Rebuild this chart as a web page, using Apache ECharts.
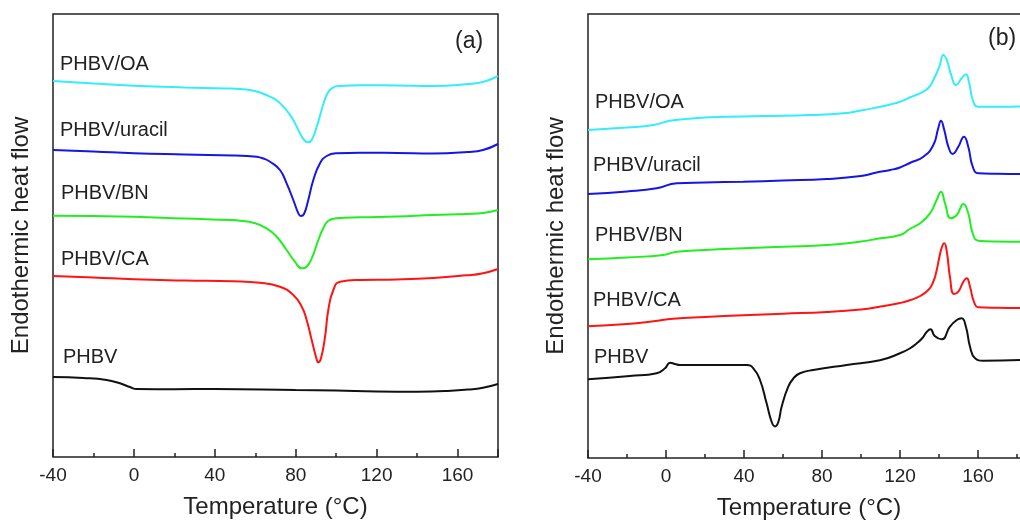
<!DOCTYPE html>
<html>
<head>
<meta charset="utf-8">
<script src="https://cdn.jsdelivr.net/npm/echarts@6.0.0/dist/echarts.min.js"></script>
<style>
  html, body { margin: 0; padding: 0; background: #fff; }
  #chart { width: 1020px; height: 524px; }
</style>
</head>
<body>
<div id="chart"></div>
<script>
// DSC curves, [temperature (°C), heat flow (arb. units, offset stacked)]
// panel (a): cooling
const A_OA = [[-40,376],[-20,373.5],[0,371.3],[25,369.5],[45,368.5],[52.5,368],[59,366.3],[63,364],[67.3,360.3],[71,356],[73.9,350.3],[76.5,344],[78.8,337],[82.1,323.7],[84.6,316],[86.2,314.7],[87.9,317],[90.4,330.3],[92.8,347],[95.3,362],[97.8,368.7],[101.9,371],[111.8,371.7],[130,371.5],[148,371],[165,373],[173,375.3],[180,381]];
const A_URACIL = [[-40,307],[-20,305.5],[0,303.7],[25,302.5],[49,301.5],[56,301],[60.7,300.3],[64,298.5],[67.3,295.3],[72.2,287],[75.5,273.7],[78.8,257],[81.3,243.7],[82.5,241],[84.1,243],[86.2,257],[88.7,277],[92,293.7],[95.3,301],[100.3,303.7],[111.8,304.3],[130,304],[148,303.5],[165,305],[172.6,307],[180,313]];
const A_BN = [[-40,241.3],[-20,241],[0,240.3],[25,238.5],[49,237],[52.5,236.3],[59,234.3],[65.6,228.7],[70.6,220.3],[75.5,207],[79.6,195.3],[83,188.7],[85.4,190.3],[87.9,198.7],[91.2,217],[93.6,228.7],[96.1,236.3],[100.3,238.7],[111.8,239.7],[130,240.5],[148,242],[165,243],[172.6,244],[180,247]];
const A_CA = [[-40,181],[-20,179.5],[0,177.7],[25,176.5],[49,175.7],[62.3,174.3],[72.2,170.3],[78.8,162],[83,150.3],[85.4,137],[87.9,117],[90,100.3],[91.2,94.7],[92.5,98.7],[94.5,120.3],[96.1,147],[98.6,167],[101.9,175.3],[111.8,177],[130,177.5],[148,179],[164.5,181.7],[172,183.5],[180,188]];
const A_PHBV = [[-40,80],[-25,79],[-13.5,77],[-6.9,73.7],[-2,70],[1.4,68],[20,67.8],[40,68],[80,67],[100,66.5],[120,65.5],[140,65.3],[155,66],[165,67.5],[172,69],[180,73]];

// panel (b): second heating
const B_OA = [[-40,328],[-20,330.5],[-6.5,333],[2,337.3],[10,339],[22.6,340.7],[50,342],[73.8,343],[90.9,344.7],[100,347.5],[108,350.5],[115,353.5],[120,356.3],[125,360.5],[132,366.3],[135,371],[137.1,378],[140.2,391.3],[142.2,403],[144,398],[146.5,381.3],[148.7,373],[151.6,379.7],[153.8,383.7],[155.5,374.7],[157.6,356.3],[160.2,351.3],[170,351.3],[182,351.5]];
const B_URACIL = [[-40,264],[-20,266.5],[-4.8,269.7],[5.5,274.7],[20,275.5],[39.6,276.3],[60,277.5],[82.4,279],[100,282],[108,285.5],[115,288],[120,290.5],[125,295],[132,301.3],[137.1,313],[139.6,329.7],[141,337.3],[142.7,328],[144.8,311.3],[147,304],[149.9,311.3],[152.8,321.3],[155,311.3],[157.3,291.3],[160.2,284.7],[170,284.2],[182,284]];
const B_BN = [[-40,198.7],[-20,200.5],[-1.4,203],[5.5,206.3],[20,208],[39.6,209.7],[60,211.3],[82.4,213],[100,216.5],[109,219.5],[120,223],[125,229],[130.3,234.7],[135.4,244.7],[138.8,258],[141,266.3],[143.1,254.7],[146,239.7],[149.1,243],[152.5,254],[155,244.7],[157.3,224.7],[160.2,217.3],[170,216.5],[182,216.3]];
const B_CA = [[-40,131.7],[-20,134],[-6.5,136.7],[3.7,139.3],[20,141],[39.6,142.7],[60,144.3],[82.4,146],[100,148.5],[109,151],[120,155],[125,157.7],[130.3,162],[134.5,168],[136.8,175],[138.6,186],[140.2,201],[141.5,211],[142.7,214.7],[144,206.3],[145.6,181.3],[147.7,164],[149.9,166.3],[152.5,176.3],[154.2,179.7],[155.9,171.3],[157.9,156.3],[160.2,150.7],[170,150.2],[182,150]];
const B_PHBV = [[-40,78.7],[-18.5,82],[-4.8,84.7],[-0.5,89.7],[2.1,95.3],[4.6,94],[7.2,93],[25,93],[41.4,93],[44.8,89.7],[48.2,78],[51.6,54.7],[54.2,36],[55.9,31.5],[57.6,36],[59.3,51.3],[62.7,71.3],[65.5,80],[68.7,84.7],[75.5,88],[92.7,93],[109.7,97.7],[120,104.7],[125,109.5],[128.6,114.7],[131.5,120],[133.7,126],[135.6,128.7],[137.8,122],[141.4,118.7],[145.6,131.3],[149.1,138],[151.6,139.7],[153.8,131.3],[155.9,111.3],[158.5,99.7],[162.7,97.3],[182,98]];

const SAMPLE_NAMES = ['PHBV/OA', 'PHBV/uracil', 'PHBV/BN', 'PHBV/CA', 'PHBV'];
const SAMPLE_COLORS = ['#33eefa', '#1515e6', '#22ee22', '#ff1414', '#111111'];
const X_TICKS_MAJOR = 40;
const X_TICKS_MINOR = 20;

const FONT = '"Liberation Sans", Arial, sans-serif';
const TXT = '#222';

const chart = echarts.init(document.getElementById('chart'), null, { renderer: 'canvas' });

// minor axis carries labels + short ticks, major axis only longer ticks
function xAxes(gridIndex, max, namePad) {
  return [
    {
      gridIndex, type: 'value', position: 'bottom', min: -40, max, interval: X_TICKS_MINOR,
      name: 'Temperature (°C)', nameLocation: 'middle', nameGap: 38,
      nameTextStyle: { fontFamily: FONT, fontSize: 24, color: TXT, padding: namePad },
      axisLine: { show: false },
      axisTick: { inside: true, length: 4, lineStyle: { color: '#222', width: 1.5 } },
      axisLabel: {
        fontFamily: FONT, fontSize: 19, color: TXT, margin: 9,
        formatter: (v) => ((v + 40) % X_TICKS_MAJOR === 0 ? String(v) : ''),
      },
      splitLine: { show: false },
    },
    {
      gridIndex, type: 'value', position: 'bottom', offset: 0, min: -40, max, interval: X_TICKS_MAJOR,
      axisLine: { show: false },
      axisTick: { inside: true, length: 8, lineStyle: { color: '#222', width: 1.5 } },
      axisLabel: { show: false },
      splitLine: { show: false },
    },
  ];
}

function yAxis(gridIndex, max) {
  return {
    gridIndex, type: 'value', min: 0, max,
    name: 'Endothermic heat flow', nameLocation: 'middle', nameGap: 20,
    nameTextStyle: { fontFamily: FONT, fontSize: 24, color: TXT },
    axisLine: { show: false }, axisTick: { show: false },
    axisLabel: { show: false }, splitLine: { show: false },
  };
}

const panelA = [A_OA, A_URACIL, A_BN, A_CA, A_PHBV];
const panelB = [B_OA, B_URACIL, B_BN, B_CA, B_PHBV];

const series = [];
[panelA, panelB].forEach((panel, p) => {
  panel.forEach((data, i) => {
    series.push({
      name: SAMPLE_NAMES[i] + (p ? ' (b)' : ' (a)'),
      type: 'line',
      xAxisIndex: p * 2,
      yAxisIndex: p,
      data,
      smooth: 0.5,
      showSymbol: false,
      lineStyle: { color: SAMPLE_COLORS[i], width: 2 },
      silent: true,
    });
  });
});

const labelPosA = [[60, 64.5], [60, 130], [61, 193], [61, 259], [63, 357]];
const labelPosB = [[595, 102], [593, 165.5], [595, 235], [593, 300.5], [594, 357.5]];

const textEl = (x, y, text, size) => ({
  type: 'text', x, y, silent: true,
  style: { text, fill: TXT, font: `${size}px ${FONT}`, verticalAlign: 'middle' },
});

const graphic = [
  ...labelPosA.map(([x, y], i) => textEl(x, y, SAMPLE_NAMES[i], 20)),
  ...labelPosB.map(([x, y], i) => textEl(x, y, SAMPLE_NAMES[i], 20)),
  textEl(455, 42, '(a)', 23),
  textEl(988, 39, '(b)', 23),
];

chart.setOption({
  backgroundColor: '#fff',
  animation: false,
  grid: [
    { left: 53, top: 14, width: 445, height: 443, show: true, borderColor: '#222', borderWidth: 1.5, outerBoundsMode: 'none' },
    // panel b runs past the right edge of the picture
    { left: 588, top: 14, width: 468, height: 444, show: true, borderColor: '#222', borderWidth: 1.5, outerBoundsMode: 'none' },
  ],
  xAxis: [...xAxes(0, 180, [0, 0, 0, 0]), ...xAxes(1, 200, [0, 26, 0, 0])],
  yAxis: [yAxis(0, 443), yAxis(1, 444)],
  series,
  graphic,
});
</script>
</body>
</html>
